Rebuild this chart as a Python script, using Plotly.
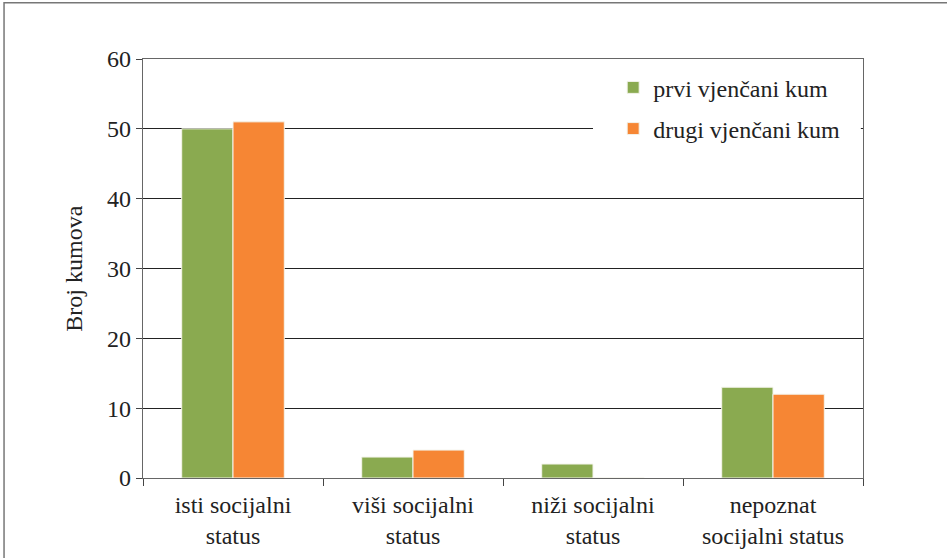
import plotly.graph_objects as go

categories = ["isti socijalni<br>status", "viši socijalni<br>status",
              "niži socijalni<br>status", "nepoznat<br>socijalni status"]
prvi_kum = [50, 3, 2, 13]
drugi_kum = [51, 4, 0, 12]
names = ["prvi vjenčani kum", "drugi vjenčani kum"]
colors = ["#8AAA50", "#F68634"]

FONT = "Liberation Serif"

fig = go.Figure()
for i, vals in enumerate([prvi_kum, drugi_kum]):
    fig.add_trace(go.Bar(x=categories, y=vals, name=names[i],
                         legendgroup=names[i],
                         marker=dict(color=colors[i],
                                     line=dict(color="#F4F4EC", width=1))))

fig.update_layout(
    width=947, height=558,
    margin=dict(l=143, r=84, t=59, b=80),
    paper_bgcolor="white", plot_bgcolor="white",
    font=dict(family=FONT, size=24, color="#222"),
    barmode="group", bargap=0.43, bargroupgap=0,
    showlegend=True,
    legend=dict(x=0.653, y=0.985, xanchor="left", yanchor="top",
                bgcolor="rgba(0,0,0,0)", borderwidth=0,
                font=dict(family=FONT, size=24, color="#222"),
                tracegroupgap=7, itemwidth=30),
)

fig.update_xaxes(showgrid=False, showline=True, linecolor="#666", linewidth=1.3,
                 mirror=True, ticks="outside", tickson="boundaries",
                 ticklen=7, tickcolor="#444", tickwidth=1.3,
                 ticklabelstandoff=5, automargin=False)
fig.update_yaxes(range=[0, 60], dtick=10, showgrid=True, gridcolor="#222",
                 gridwidth=1, showline=True, linecolor="#666", linewidth=1.3,
                 mirror=True, ticks="outside", ticklen=6, tickcolor="#444",
                 zeroline=False, automargin=False)

fig.add_annotation(text="Broj kumova", xref="paper", yref="paper",
                   x=-0.097, y=0.5, textangle=-90, showarrow=False,
                   xanchor="center", yanchor="middle",
                   font=dict(family=FONT, size=24, color="#222"))

# white box behind the legend, hiding the gridline at 50
fig.add_shape(type="rect", xref="paper", yref="paper",
              x0=0.625, y0=0.72, x1=0.997, y1=0.996,
              fillcolor="white", line=dict(width=0), layer="above")

# outer frame of the figure
fig.add_shape(type="rect", xref="paper", yref="paper",
              x0=-0.193, y0=-1, x1=2, y1=1.134,
              line=dict(color="#777", width=1.5), layer="below")

fig.write_html("out.html", config={"displayModeBar": False},
               post_script="document.body.style.margin='0';")
